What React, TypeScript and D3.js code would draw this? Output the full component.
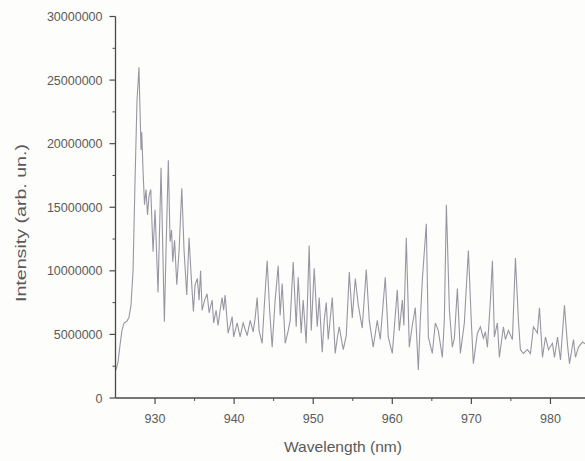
import React from "react";
import * as d3 from "d3";

const wavelengths = [
  925.06, 925.32, 925.57, 925.82, 926.08, 926.46, 926.71, 926.96, 927.22, 927.47,
  927.72, 927.97, 928.1, 928.23, 928.32, 928.48, 928.67, 928.86, 929.05, 929.24,
  929.46, 929.62, 929.75, 930.0, 930.38, 930.76, 931.01, 931.18, 931.39, 931.68,
  931.9, 932.09, 932.24, 932.47, 932.75, 933.04, 933.38, 933.67, 934.01, 934.3,
  934.56, 934.85, 935.06, 935.35, 935.57, 935.76, 935.95, 936.27, 936.58, 936.84,
  937.22, 937.41, 937.72, 937.97, 938.23, 938.48, 938.67, 938.86, 939.24, 939.49,
  939.75, 939.94, 940.38, 940.76, 941.14, 941.65, 942.03, 942.41, 942.66, 942.91,
  943.16, 943.54, 943.86, 944.18, 944.49, 944.81, 945.19, 945.57, 945.82, 946.08,
  946.46, 946.84, 947.09, 947.47, 947.85, 948.1, 948.48, 948.73, 949.11, 949.49,
  949.75, 950.13, 950.51, 950.76, 951.14, 951.39, 951.65, 951.9, 952.41, 952.78,
  953.04, 953.29, 953.8, 954.18, 954.56, 954.94, 955.32, 955.7, 956.2, 956.71,
  957.09, 957.59, 958.1, 958.48, 959.11, 959.49, 960.0, 960.63, 960.89, 961.27,
  961.46, 961.77, 962.15, 962.53, 962.91, 963.29, 963.54, 963.8, 964.3, 964.56,
  965.06, 965.44, 965.82, 966.33, 966.58, 966.84, 967.22, 967.59, 967.85, 968.23,
  968.61, 969.11, 969.62, 970.0, 970.25, 970.76, 971.14, 971.52, 971.77, 972.03,
  972.41, 972.66, 972.91, 973.29, 973.54, 974.05, 974.3, 974.68, 975.19, 975.57,
  975.95, 976.2, 976.58, 977.09, 977.47, 977.85, 978.35, 978.61, 978.99, 979.37,
  979.75, 980.25, 980.51, 980.89, 981.27, 981.77, 982.15, 982.41, 982.91, 983.16,
  983.54, 984.05, 984.56,
];

const intensities = [
  2.2, 2.83, 4.16, 5.34, 5.89, 6.05, 6.36, 7.3, 10.05, 17.12,
  23.4, 26.0, 22.6, 19.5, 20.9, 17.9, 15.2, 16.4, 14.4, 15.9,
  16.4, 13.6, 11.5, 14.8, 8.3, 18.1, 10.8, 6.0, 11.6, 18.7,
  12.3, 13.2, 10.7, 12.4, 8.9, 11.6, 16.5, 11.6, 8.1, 12.6,
  9.7, 6.8, 8.9, 9.4, 7.7, 10.0, 6.9, 7.7, 8.2, 6.7,
  7.7, 5.9, 6.9, 5.7, 6.9, 7.9, 6.9, 8.1, 5.1, 5.7,
  6.4, 4.8, 5.9, 4.8, 5.9, 4.9, 6.1, 5.2, 6.3, 7.9,
  5.3, 4.3, 7.7, 10.8, 6.9, 4.0, 7.7, 10.4, 6.5, 9.0,
  4.3, 5.3, 6.1, 10.7, 5.6, 9.5, 5.1, 7.7, 4.3, 12.0,
  5.3, 10.2, 5.6, 7.9, 3.6, 6.1, 7.5, 4.6, 7.9, 3.5,
  4.7, 5.6, 3.8, 4.9, 9.9, 6.3, 9.4, 7.3, 5.5, 10.1,
  6.1, 4.0, 6.1, 4.6, 9.5, 4.8, 3.5, 8.5, 5.3, 7.7,
  5.7, 12.6, 4.0, 5.7, 7.1, 2.2, 6.1, 9.3, 13.7, 4.8,
  3.5, 5.9, 5.3, 3.2, 6.1, 15.2, 6.9, 4.0, 4.7, 8.6,
  3.5, 5.9, 11.6, 5.9, 2.7, 5.1, 5.6, 4.7, 5.2, 4.0,
  7.7, 10.8, 4.8, 5.9, 3.2, 5.6, 4.6, 5.3, 4.6, 11.0,
  6.1, 3.8, 3.5, 3.8, 3.5, 5.6, 5.1, 7.1, 3.2, 4.8,
  3.8, 4.3, 3.2, 4.8, 3.0, 7.3, 4.2, 2.7, 4.6, 3.2,
  4.0, 4.4, 4.2,
].map((v) => v * 1e6);

const xMajorTicks = [930, 940, 950, 960, 970, 980];
const xMinorTicks = [935, 945, 955, 965, 975];
const yMajorTicks = [0, 5000000, 10000000, 15000000, 20000000, 25000000, 30000000];
const yMinorTicks = [2500000, 7500000, 12500000, 17500000, 22500000, 27500000];

const W = 585;
const H = 461;

export default function App() {
  const x = d3.scaleLinear().domain([925, 985]).range([115.5, 590]);
  const y = d3.scaleLinear().domain([0, 30000000]).range([398, 16.5]);
  const data = wavelengths.map((w, i) => [w, intensities[i]] as [number, number]);
  const line = d3
    .line<[number, number]>()
    .x((d) => x(d[0]))
    .y((d) => y(d[1]))
    .curve(d3.curveLinear);

  const axisColor = "#4a4a4a";
  const textColor = "#5a5a5a";
  const font = "'Liberation Sans', Arial, sans-serif";

  return (
    <svg
      width={W}
      height={H}
      style={{ position: "absolute", left: 0, top: 0, background: "#fff" }}
    >
      <rect x={0} y={0} width={W} height={H} fill="#fdfdfc" />
      <path d={line(data) || ""} fill="none" stroke="#9896a2" strokeWidth={1.1} />
      {/* Y axis */}
      <line x1={x(925)} x2={x(925)} y1={y(30000000)} y2={y(0)} stroke={axisColor} strokeWidth={1.3} />
      {yMajorTicks.map((t) => (
        <g key={"ym" + t}>
          <line x1={x(925) - 6} x2={x(925)} y1={y(t)} y2={y(t)} stroke={axisColor} strokeWidth={1.2} />
          <text
            x={x(925) - 13}
            y={y(t)}
            dy="0.36em"
            textAnchor="end"
            fontSize={12.5}
            fontFamily={font}
            fill={textColor}
          >
            {d3.format("d")(t)}
          </text>
        </g>
      ))}
      {yMinorTicks.map((t) => (
        <line key={"yn" + t} x1={x(925) - 3} x2={x(925)} y1={y(t)} y2={y(t)} stroke={axisColor} strokeWidth={1} />
      ))}
      {/* X axis */}
      <line x1={x(925)} x2={W} y1={y(0)} y2={y(0)} stroke={axisColor} strokeWidth={1.3} />
      {xMajorTicks.map((t) => (
        <g key={"xm" + t}>
          <line x1={x(t)} x2={x(t)} y1={y(0)} y2={y(0) + 6} stroke={axisColor} strokeWidth={1.2} />
          <text
            x={x(t)}
            y={y(0) + 25}
            textAnchor="middle"
            fontSize={12.5}
            fontFamily={font}
            fill={textColor}
          >
            {t}
          </text>
        </g>
      ))}
      {xMinorTicks.map((t) => (
        <line key={"xn" + t} x1={x(t)} x2={x(t)} y1={y(0)} y2={y(0) + 3} stroke={axisColor} strokeWidth={1} />
      ))}
      <text
        x={343}
        y={452}
        textAnchor="middle"
        fontSize={14.5}
        fontFamily={font}
        fill={textColor}
        textLength={118}
        lengthAdjust="spacingAndGlyphs"
      >
        Wavelength (nm)
      </text>
      <text
        transform="translate(26,223) rotate(-90)"
        textAnchor="middle"
        fontSize={14.5}
        fontFamily={font}
        fill={textColor}
        textLength={158}
        lengthAdjust="spacingAndGlyphs"
      >
        Intensity (arb. un.)
      </text>
    </svg>
  );
}
